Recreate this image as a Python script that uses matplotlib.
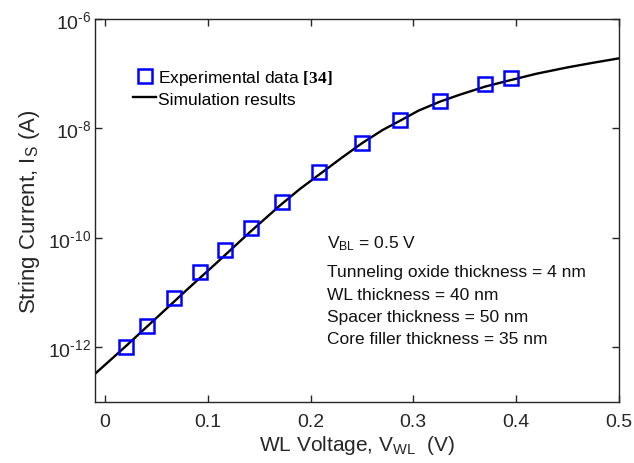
import numpy as np
import matplotlib
matplotlib.use("Agg")
import matplotlib.pyplot as plt
from matplotlib.ticker import FixedLocator, NullLocator

plt.rcParams['font.family'] = ['Liberation Sans', 'DejaVu Sans']
plt.rcParams['mathtext.fontset'] = 'custom'
plt.rcParams['mathtext.rm'] = 'Liberation Sans'
plt.rcParams['mathtext.it'] = 'Liberation Sans:italic'
plt.rcParams['mathtext.bf'] = 'Liberation Serif:bold'

# Experimental data
exp_v = [0.020, 0.041, 0.067, 0.092, 0.117, 0.142, 0.172, 0.208, 0.250, 0.287, 0.326, 0.370, 0.395]
exp_logi = [-12.00, -11.60, -11.10, -10.62, -10.22, -9.82, -9.34, -8.79, -8.26, -7.85, -7.50, -7.19, -7.08]

# Simulation results
sim_v = [-0.0097, 0.02, 0.05, 0.08, 0.11, 0.14, 0.17, 0.19, 0.21, 0.23, 0.25, 0.27, 0.287, 0.305,
         0.326, 0.345, 0.37, 0.393, 0.42, 0.45, 0.475, 0.5]
sim_logi = [-12.48, -11.98, -11.46, -10.94, -10.43, -9.91, -9.41, -9.10, -8.82, -8.54, -8.27, -8.03,
            -7.86, -7.675, -7.51, -7.385, -7.235, -7.125, -7.00, -6.885, -6.80, -6.72]

ytick_vals = [1e-12, 1e-10, 1e-8, 1e-6]
ytick_labels = [r'$\mathregular{10^{\text{-12}}}$', r'$\mathregular{10^{\text{-10}}}$',
                r'$\mathregular{10^{\text{-8}}}$', r'$\mathregular{10^{\text{-6}}}$']
xtick_vals = [0, 0.1, 0.2, 0.3, 0.4, 0.5]
xtick_labels = ['0', '0.1', '0.2', '0.3', '0.4', '0.5']

exp_i = [10 ** v for v in exp_logi]
sim_i = [10 ** v for v in sim_logi]

fig = plt.figure(figsize=(6.34, 4.64), dpi=100)
ax = fig.add_axes([0.150, 0.131, 0.826, 0.826])

ax.plot(sim_v, sim_i, color='black', lw=1.7, label='Simulation results', zorder=2)
ax.plot(exp_v, exp_i, ls='none', marker='s', ms=9.5, mfc='none', mec='#0000ff', mew=1.8,
        label=r'Experimental data $\mathbf{[34]}$', zorder=3)

ax.set_yscale('log')
ax.set_xlim(-0.0097, 0.5)
ax.set_ylim(1e-13, 1e-6)
ax.xaxis.set_major_locator(FixedLocator(xtick_vals))
ax.set_xticklabels(xtick_labels)
ax.yaxis.set_major_locator(FixedLocator(ytick_vals))
ax.yaxis.set_minor_locator(NullLocator())
ax.set_yticklabels(ytick_labels)

gray = '#262626'
ax.tick_params(which='both', direction='in', top=True, right=True, labelsize=14,
               colors=gray, length=5, width=1)
ax.tick_params(axis='x', pad=8)
ax.tick_params(axis='y', pad=3)
for s in ax.spines.values():
    s.set_color(gray)
    s.set_linewidth(1)

ax.set_xlabel(r'WL Voltage, V$_{\mathregular{WL}}$  (V)', fontsize=15, color=gray, labelpad=2)
ax.set_ylabel(r'String Current, I$_{\mathregular{S}}$ (A)', fontsize=16, color=gray, labelpad=4)

h, l = ax.get_legend_handles_labels()
leg = ax.legend(h[::-1], l[::-1], loc='upper left', bbox_to_anchor=(0.06, 0.89), frameon=False,
                fontsize=12.5, handlelength=1.3, handletextpad=0.1, labelspacing=0.25, borderaxespad=0)

lines = [r'V$_{\mathregular{BL}}$ = 0.5 V',
         'Tunneling oxide thickness = 4 nm',
         'WL thickness = 40 nm',
         'Spacer thickness = 50 nm',
         'Core filler thickness = 35 nm']
ys = [0.405, 0.329, 0.269, 0.211, 0.154]
for t, y in zip(lines, ys):
    ax.text(0.443, y, t, transform=ax.transAxes, fontsize=12.5, va='baseline', ha='left',
            color='#111111')

fig.savefig('out.png', dpi=100)
